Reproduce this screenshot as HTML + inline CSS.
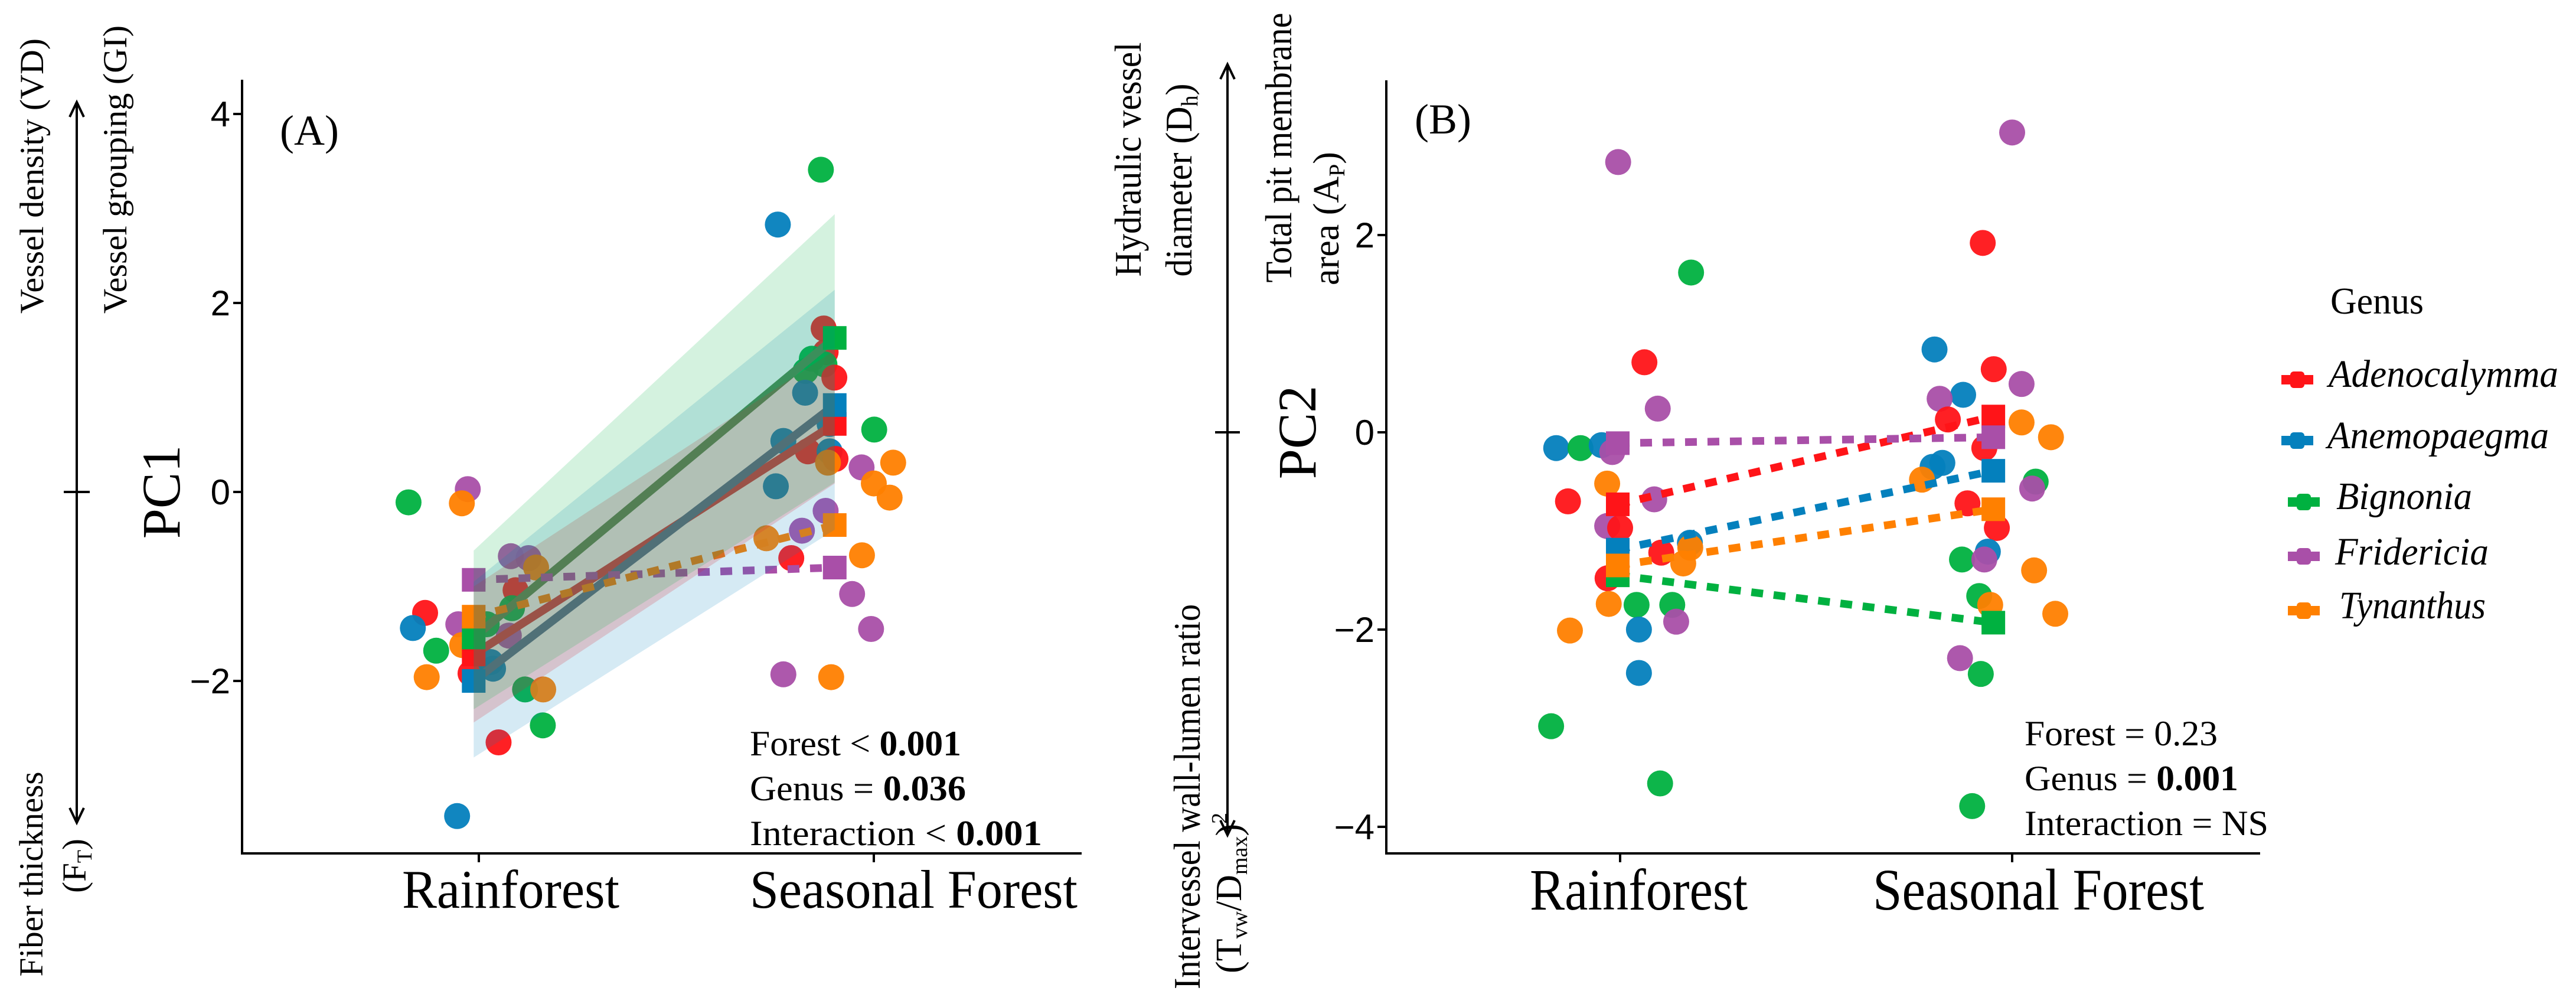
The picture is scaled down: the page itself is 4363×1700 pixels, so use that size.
<!DOCTYPE html>
<html><head><meta charset="utf-8"><style>
html,body{margin:0;padding:0;background:#fff;}
svg{display:block;}
text{font-family:"Liberation Serif",serif;fill:#000;}
.sans{font-family:"Liberation Sans",sans-serif;}
</style></head><body>
<svg id="fig" xmlns="http://www.w3.org/2000/svg" width="4363" height="1700" viewBox="0 0 4363 1700">
<g id="A"></g>
<g id="B"></g>
<g id="static">
  <text transform="translate(73,298) rotate(-90)" text-anchor="middle" font-size="57" textLength="466" lengthAdjust="spacingAndGlyphs">Vessel density (VD)</text>
  <text transform="translate(214,287) rotate(-90)" text-anchor="middle" font-size="57" textLength="488" lengthAdjust="spacingAndGlyphs">Vessel grouping (GI)</text>
  <text transform="translate(72,1480) rotate(-90)" text-anchor="middle" font-size="57" textLength="347" lengthAdjust="spacingAndGlyphs">Fiber thickness</text>
  <text transform="translate(145,1466) rotate(-90)" text-anchor="middle" font-size="57">(F<tspan font-size="36" dy="10">T</tspan><tspan dy="-10">)</tspan></text>
  <line x1="130" y1="178" x2="130" y2="1388" stroke="#000" stroke-width="4"/>
  <polyline points="118,198 130,173 142,198" fill="none" stroke="#000" stroke-width="4"/>
  <polyline points="118,1368 130,1393 142,1368" fill="none" stroke="#000" stroke-width="4"/>
  <line x1="108" y1="833" x2="152" y2="833" stroke="#000" stroke-width="4"/>
  <text transform="translate(1932,270) rotate(-90)" text-anchor="middle" font-size="64" textLength="397" lengthAdjust="spacingAndGlyphs">Hydraulic vessel</text>
  <text transform="translate(2018,305) rotate(-90)" text-anchor="middle" font-size="64" textLength="327" lengthAdjust="spacingAndGlyphs">diameter (D<tspan font-size="40" dy="10">h</tspan><tspan dy="-10">)</tspan></text>
  <text transform="translate(2032,1349) rotate(-90)" text-anchor="middle" font-size="64" textLength="652" lengthAdjust="spacingAndGlyphs">Intervessel wall-lumen ratio</text>
  <text transform="translate(2102,1512) rotate(-90)" text-anchor="middle" font-size="62">(T<tspan font-size="38" dy="10">vw</tspan><tspan dy="-10">/D</tspan><tspan font-size="38" dy="10">max</tspan><tspan dy="-10">)</tspan><tspan font-size="38" dy="-24">2</tspan></text>
  <text transform="translate(2187,250) rotate(-90)" text-anchor="middle" font-size="64" textLength="457" lengthAdjust="spacingAndGlyphs">Total pit membrane</text>
  <text transform="translate(2267,370) rotate(-90)" text-anchor="middle" font-size="62">area (A<tspan font-size="38" dy="10">P</tspan><tspan dy="-10">)</tspan></text>
  <line x1="2079" y1="114" x2="2079" y2="1409" stroke="#000" stroke-width="4"/>
  <polyline points="2067,134 2079,109 2091,134" fill="none" stroke="#000" stroke-width="4"/>
  <polyline points="2067,1389 2079,1414 2091,1389" fill="none" stroke="#000" stroke-width="4"/>
  <line x1="2058" y1="732" x2="2100" y2="732" stroke="#000" stroke-width="4"/>
</g>
</svg>
<script>
const categories = ["Rainforest", "Seasonal Forest"];
const genera = ["Adenocalymma", "Anemopaegma", "Bignonia", "Fridericia", "Tynanthus"];
const genusColors = ["#ff1418", "#0480bd", "#00b140", "#a94fa8", "#ff8000"];
const lineColorsA = ["#d83a3a", "#52708e", "#558b4f", "#a0508f", "#e07020"];

const aTicks = [-2, 0, 2, 4];
const aGenus  = [2,3,4,0,1,2,4,3,4,0,3,3,4,0,2,3,1,2,4,2,0,1,2,1,
                 2,1,0,0,2,2,2,0,1,1,1,0,1,0,4,1,2,4,3,4,4,3,3,4,0,4,3,3,3,4];
const aForest = [0,0,0,0,0,0,0,0,0,0,0,0,0,0,0,0,0,0,0,0,0,0,0,0,
                 1,1,1,1,1,1,1,1,1,1,1,1,1,1,1,1,1,1,1,1,1,1,1,1,1,1,1,1,1,1];
const aJitter = [-0.178,-0.028,-0.043,-0.136,-0.167,-0.108,-0.132,-0.052,-0.042,-0.021,0.081,0.126,0.145,0.093,0.084,0.076,0.036,0.117,0.163,0.162,0.05,-0.055,0.02,0.03,
                 -0.134,-0.243,-0.127,-0.122,-0.157,-0.173,-0.125,-0.1,-0.174,-0.229,-0.112,-0.167,-0.112,-0.097,-0.116,-0.248,0.001,0.049,-0.031,0.0,0.04,-0.122,-0.182,-0.272,-0.209,-0.03,-0.055,-0.007,-0.229,-0.108];
const aValue  = [-0.11,0.03,-0.12,-1.28,-1.44,-1.68,-1.96,-1.40,-1.62,-1.92,-0.68,-0.70,-0.80,-1.04,-1.23,-1.52,-1.87,-2.09,-2.09,-2.47,-2.65,-3.43,-1.40,-1.80,
                 3.41,2.83,1.73,1.48,1.41,1.28,1.35,1.21,1.05,0.54,0.72,0.43,0.43,0.35,0.31,0.06,0.66,0.31,0.26,0.09,-0.06,-0.20,-0.41,-0.49,-0.70,-0.67,-1.08,-1.45,-1.93,-1.96];
const aMeanRF = [-1.72, -2.00, -1.54, -0.93, -1.32];
const aMeanSF = [0.72, 0.92, 1.63, -0.80, -0.35];
const aSignificant = [true, true, true, false, false];
const aCiRFlo = [-2.44, -2.81, -2.30, null, null];
const aCiRFhi = [-1.00, -0.95, -0.62, null, null];
const aCiSFlo = [0.09, -0.40, 0.10, null, null];
const aCiSFhi = [1.50, 2.14, 2.94, null, null];

const bTicks = [-4, -2, 0, 2];
const bGenus  = [3,2,0,3,1,2,1,3,4,0,3,3,0,0,1,4,4,0,4,2,2,3,4,1,1,2,2,
                 3,0,1,0,3,1,3,0,4,4,0,1,1,4,2,3,0,0,1,2,3,4,2,4,4,3,2,2];
const bForest = [0,0,0,0,0,0,0,0,0,0,0,0,0,0,0,0,0,0,0,0,0,0,0,0,0,0,0,
                 1,1,1,1,1,1,1,1,1,1,1,1,1,1,1,1,1,1,1,1,1,1,1,1,1,1,1,1];
const bJitter = [-0.005,0.181,0.062,0.096,-0.163,-0.101,-0.047,-0.02,-0.033,-0.133,0.087,-0.033,0.0,0.105,0.178,0.179,0.161,-0.032,-0.029,0.042,0.133,0.143,-0.128,0.048,0.048,-0.176,0.102,
                 0.0,-0.075,-0.198,-0.047,0.024,-0.125,-0.185,-0.164,0.024,0.099,-0.071,-0.178,-0.203,-0.23,0.06,0.051,-0.114,-0.039,-0.062,-0.128,-0.071,0.056,-0.084,-0.056,0.11,-0.133,-0.08,-0.102];
const bValue  = [2.74,1.62,0.71,0.24,-0.16,-0.16,-0.13,-0.20,-0.52,-0.70,-0.68,-0.95,-0.97,-1.22,-1.12,-1.17,-1.33,-1.48,-1.74,-1.75,-1.75,-1.92,-2.01,-2.00,-2.44,-2.98,-3.56,
                 3.04,1.92,0.84,0.64,0.49,0.38,0.34,0.13,0.10,-0.05,-0.16,-0.31,-0.35,-0.48,-0.50,-0.57,-0.72,-0.97,-1.21,-1.29,-1.29,-1.40,-1.66,-1.75,-1.84,-2.29,-2.45,-3.79];
const bMeanRF = [-0.73, -1.19, -1.45, -0.11, -1.35];
const bMeanSF = [0.16, -0.39, -1.93, -0.05, -0.78];

const NS = "http://www.w3.org/2000/svg";
function mk(parent, tag, attrs, txt) {
  const el = document.createElementNS(NS, tag);
  for (const k in attrs) el.setAttribute(k, attrs[k]);
  if (txt !== undefined) el.textContent = txt;
  parent.appendChild(el);
  return el;
}
const fmt = v => (v < 0 ? "\u2212" + Math.abs(v) : String(v));

function drawPanel(cfg) {
  const g = document.getElementById(cfg.id);
  const y = v => cfg.y0 - cfg.ys * v;
  const x = (c, j) => cfg.cx[c] + j * cfg.unit;

  const yAxis = mk(g, "line", {x1: cfg.axL, y1: cfg.axT, x2: cfg.axL, y2: cfg.axB, stroke: "#000", "stroke-width": 4});
  
  
  const xAxis = mk(g, "line", {x1: cfg.axL - 2, y1: cfg.axB, x2: cfg.axR, y2: cfg.axB, stroke: "#000", "stroke-width": 4});
  
  
  cfg.ticks.forEach(t => {
    const tk = mk(g, "line", {x1: cfg.axL - 15, y1: y(t), x2: cfg.axL, y2: y(t), stroke: "#000", "stroke-width": 4});
    
    
    const tl = mk(g, "text", {x: cfg.axL - 20, y: y(t) + 21, "text-anchor": "end", "font-size": 60, class: "sans"}, fmt(t));
    
    
  });
  categories.forEach((c, i) => {
    const tk = mk(g, "line", {x1: cfg.cx[i], y1: cfg.axB, x2: cfg.cx[i], y2: cfg.axB + 15, stroke: "#000", "stroke-width": 4});
    
    
    const tl = mk(g, "text", {x: cfg.catX[i], y: cfg.catY, "font-size": cfg.catF, textLength: cfg.catW[i], lengthAdjust: "spacingAndGlyphs"}, c);
    
    
  });
  const yt = mk(g, "text", {transform: `translate(${cfg.titleX},${cfg.y0}) rotate(-90)`, "text-anchor": "middle", "font-size": 92}, cfg.title);
  
  
  const pl = mk(g, "text", {x: cfg.tagX, y: cfg.tagY, "font-size": 72}, cfg.tag);
  
  

  cfg.genus.forEach((gi, i) => {
    const c = mk(g, "circle", {cx: x(cfg.forest[i], cfg.jitter[i]), cy: y(cfg.value[i]), r: 22, fill: genusColors[gi], "fill-opacity": 0.95});
    
    
  });
  genera.forEach((gn, gi) => {
    const sig = cfg.sig ? cfg.sig[gi] : false;
    const ln = mk(g, "line", {x1: x(0, cfg.mj[0]), y1: y(cfg.mRF[gi]), x2: x(1, cfg.mj[1]), y2: y(cfg.mSF[gi]),
      stroke: sig ? cfg.lineCol[gi] : genusColors[gi], "stroke-width": sig ? 14 : 13,
      "stroke-dasharray": sig ? "none" : "20 18"});
    
    
  });
  genera.forEach((gn, gi) => {
    [[0, cfg.mRF[gi]], [1, cfg.mSF[gi]]].forEach(([f, v]) => {
      const s = mk(g, "rect", {x: x(f, cfg.mj[f]) - 20, y: y(v) - 20, width: 40, height: 40, fill: genusColors[gi]});
      
      
    });
  });
  if (cfg.ciRFlo) {
    const ribAlpha = [0.2, 0.17, 0.17, 0.17, 0.17];
    genera.forEach((gn, gi) => {
      if (cfg.ciRFlo[gi] === null) return;
      const x0 = x(0, cfg.mj[0]), x1 = x(1, cfg.mj[1]);
      const pts = `${x0},${y(cfg.ciRFhi[gi])} ${x1},${y(cfg.ciSFhi[gi])} ${x1},${y(cfg.ciSFlo[gi])} ${x0},${y(cfg.ciRFlo[gi])}`;
      const p = mk(g, "polygon", {points: pts, fill: genusColors[gi], "fill-opacity": ribAlpha[gi]});
      
      
    });
  }
  cfg.stats.forEach((s, i) => {
    const t = mk(g, "text", {x: cfg.statX, y: cfg.statY[i], "font-size": 60, textLength: s[2], lengthAdjust: "spacingAndGlyphs"});
    
    
    mk(t, "tspan", {}, s[0]);
    mk(t, "tspan", {"font-weight": s[3] ? "bold" : "normal"}, s[1]);
  });
}

drawPanel({id: "A", y0: 833, ys: 160, cx: [811, 1480], unit: 669, axL: 410, axT: 135, axB: 1445, axR: 1832,
  ticks: aTicks, catX: [681, 1270], catW: [368, 555], catY: 1537, catF: 92, title: "PC1", titleX: 304, tag: "(A)", tagX: 474, tagY: 245,
  genus: aGenus, forest: aForest, jitter: aJitter, value: aValue, mRF: aMeanRF, mSF: aMeanSF, mj: [-0.013, -0.099],
  sig: aSignificant, lineCol: lineColorsA, ciRFlo: aCiRFlo, ciRFhi: aCiRFhi, ciSFlo: aCiSFlo, ciSFhi: aCiSFhi,
  statX: 1270, statY: [1279, 1355, 1431],
  stats: [["Forest < ", "0.001", 358, true], ["Genus = ", "0.036", 366, true], ["Interaction < ", "0.001", 495, true]]});

drawPanel({id: "B", y0: 732, ys: 167, cx: [2744, 3408], unit: 664, axL: 2348, axT: 136, axB: 1445, axR: 3828,
  ticks: bTicks, catX: [2591, 3172], catW: [369, 561], catY: 1540, catF: 100, title: "PC2", titleX: 2228, tag: "(B)", tagX: 2396, tagY: 226,
  genus: bGenus, forest: bForest, jitter: bJitter, value: bValue, mRF: bMeanRF, mSF: bMeanSF, mj: [-0.006, -0.048],
  sig: null, lineCol: genusColors, ciRFlo: null,
  statX: 3429, statY: [1262, 1338, 1414],
  stats: [["Forest = ", "0.23", 327, false], ["Genus = ", "0.001", 362, true], ["Interaction = ", "NS", 413, false]]});

const lg = mk(document.getElementById("B"), "g", {});


const lt = mk(lg, "text", {x: 3947, y: 531, "font-size": 64, textLength: 158, lengthAdjust: "spacingAndGlyphs"}, "Genus");


const legKeyY = [643, 746, 850, 942, 1034];
const legTextY = [655, 759, 862, 956, 1047];
const legKeyX = [3891, 3891, 3902, 3902, 3902];
const legTextX = [3944, 3942, 3957, 3955, 3962];
const legTextW = [389, 375, 230, 260, 248];
genera.forEach((gn, gi) => {
  const e = mk(lg, "g", {});
  
  
  mk(e, "rect", {x: legKeyX[gi] - 27, y: legKeyY[gi] - 8, width: 54, height: 16, fill: genusColors[gi]});
  mk(e, "rect", {x: legKeyX[gi] - 12, y: legKeyY[gi] - 14, width: 24, height: 28, rx: 6, fill: genusColors[gi]});
  mk(e, "text", {x: legTextX[gi], y: legTextY[gi], "font-size": 66, "font-style": "italic", textLength: legTextW[gi], lengthAdjust: "spacingAndGlyphs"}, gn);
});
</script>
</body></html>
